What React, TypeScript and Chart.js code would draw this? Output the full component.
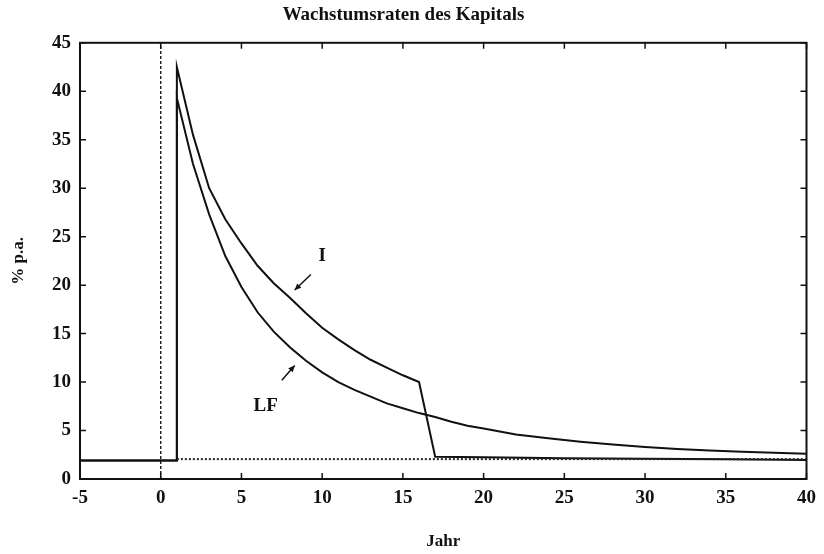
import React, { useEffect, useRef } from "react";
import { Chart, registerables } from "chart.js";

Chart.register(...registerables);

const TITLE = "Wachstumsraten des Kapitals";
const X_LABEL = "Jahr";
const Y_LABEL = "% p.a.";

const X_MIN = -5;
const X_MAX = 40;
const X_STEP = 5;
const Y_MIN = 0;
const Y_MAX = 45;
const Y_STEP = 5;

// Series "I"
const yearsI = [-5, 1, 1, 2, 3, 4, 5, 6, 7, 8, 9, 10, 11, 12, 13, 14, 15, 16, 17, 20, 25, 30, 35, 40];
const valuesI = [1.9, 1.9, 42.5, 35.5, 30.0, 26.8, 24.3, 22.0, 20.2, 18.7, 17.1, 15.6, 14.4, 13.3, 12.3, 11.5, 10.7, 10.0, 2.3, 2.25, 2.15, 2.1, 2.05, 1.95];

// Series "LF"
const yearsLF = [-5, 1, 1, 2, 3, 4, 5, 6, 7, 8, 9, 10, 11, 12, 13, 14, 15, 16, 17, 18, 19, 20, 22, 24, 26, 28, 30, 32, 34, 36, 38, 40];
const valuesLF = [1.9, 1.9, 39.3, 32.5, 27.3, 23.0, 19.8, 17.2, 15.2, 13.6, 12.2, 11.0, 10.0, 9.2, 8.5, 7.8, 7.3, 6.8, 6.4, 5.9, 5.5, 5.2, 4.6, 4.2, 3.85, 3.55, 3.3, 3.1, 2.95, 2.8, 2.7, 2.6];

// Dotted reference level
const yearsRef = [1, 40];
const valuesRef = [2.05, 2.05];

// Dashed vertical marker at year 0
const yearsMarker = [0, 0];
const valuesMarker = [0, 45];

const FONT = "'Liberation Serif', 'Times New Roman', serif";

const toPoints = (xs: number[], ys: number[]) => xs.map((x, i) => ({ x, y: ys[i] }));

const frameTicks = {
  id: "frameTicks",
  afterDatasetsDraw(chart: any) {
    const { ctx, chartArea, scales } = chart;
    const { left, right, top, bottom } = chartArea;
    const len = 6;
    ctx.save();
    ctx.strokeStyle = "#111";
    ctx.lineWidth = 2;
    ctx.strokeRect(left, top, right - left, bottom - top);
    ctx.lineWidth = 1.5;
    ctx.beginPath();
    scales.x.ticks.forEach((t: any) => {
      const px = scales.x.getPixelForValue(t.value);
      ctx.moveTo(px, bottom);
      ctx.lineTo(px, bottom - len);
      ctx.moveTo(px, top);
      ctx.lineTo(px, top + len);
    });
    scales.y.ticks.forEach((t: any) => {
      const py = scales.y.getPixelForValue(t.value);
      ctx.moveTo(left, py);
      ctx.lineTo(left + len, py);
      ctx.moveTo(right, py);
      ctx.lineTo(right - len, py);
    });
    ctx.stroke();
    ctx.restore();
  },
};

const labels = {
  id: "curveLabels",
  afterDatasetsDraw(chart: any) {
    const { ctx, scales } = chart;
    const X = (v: number) => scales.x.getPixelForValue(v);
    const Y = (v: number) => scales.y.getPixelForValue(v);
    ctx.save();
    ctx.fillStyle = "#111";
    ctx.strokeStyle = "#111";
    ctx.font = `bold 19px ${FONT}`;
    ctx.textAlign = "center";
    ctx.textBaseline = "middle";
    ctx.fillText("I", X(10), Y(23.0));
    ctx.fillText("LF", X(6.5), Y(7.5));
    const arrow = (x1: number, y1: number, x2: number, y2: number) => {
      const a = X(x1), b = Y(y1), c = X(x2), d = Y(y2);
      ctx.lineWidth = 1.5;
      ctx.beginPath();
      ctx.moveTo(a, b);
      ctx.lineTo(c, d);
      ctx.stroke();
      const ang = Math.atan2(d - b, c - a);
      const h = 7;
      ctx.beginPath();
      ctx.moveTo(c, d);
      ctx.lineTo(c - h * Math.cos(ang - 0.45), d - h * Math.sin(ang - 0.45));
      ctx.lineTo(c - h * Math.cos(ang + 0.45), d - h * Math.sin(ang + 0.45));
      ctx.closePath();
      ctx.fill();
    };
    arrow(9.3, 21.1, 8.3, 19.5);
    arrow(7.5, 10.2, 8.3, 11.7);
    ctx.restore();
  },
};

export default function App() {
  const ref = useRef<HTMLCanvasElement>(null);

  useEffect(() => {
    document.body.style.margin = "0";
    const canvas = ref.current;
    if (!canvas) return;
    const chart = new Chart(canvas, {
      type: "line",
      data: {
        datasets: [
          {
            label: "marker",
            data: toPoints(yearsMarker, valuesMarker),
            borderColor: "#222",
            borderWidth: 1.5,
            borderDash: [3, 2],
            pointRadius: 0,
          },
          {
            label: "ref",
            data: toPoints(yearsRef, valuesRef),
            borderColor: "#222",
            borderWidth: 2,
            borderDash: [2, 2],
            pointRadius: 0,
          },
          {
            label: "LF",
            data: toPoints(yearsLF, valuesLF),
            borderColor: "#111",
            borderWidth: 2,
            pointRadius: 0,
            tension: 0,
          },
          {
            label: "I",
            data: toPoints(yearsI, valuesI),
            borderColor: "#111",
            borderWidth: 2,
            pointRadius: 0,
            tension: 0,
          },
        ],
      },
      options: {
        responsive: false,
        animation: false,
        layout: { padding: { left: 0, right: 17, top: 0, bottom: 0 } },
        plugins: {
          legend: { display: false },
          tooltip: { enabled: false },
          title: {
            display: true,
            text: TITLE,
            color: "#111",
            font: { family: FONT, size: 19, weight: "bold" },
            padding: { top: 4, bottom: 16 },
          },
        },
        scales: {
          x: {
            type: "linear",
            min: X_MIN,
            max: X_MAX,
            ticks: {
              stepSize: X_STEP,
              color: "#111",
              font: { family: FONT, size: 19, weight: "bold" },
              padding: 8,
              maxRotation: 0,
            },
            grid: { display: false, drawTicks: false },
            border: { display: false },
            title: {
              display: true,
              text: X_LABEL,
              color: "#111",
              font: { family: FONT, size: 17, weight: "bold" },
              padding: { top: 0, bottom: 2 },
            },
            afterFit: (s: any) => {
              s.height = 75;
            },
          },
          y: {
            min: Y_MIN,
            max: Y_MAX,
            ticks: {
              stepSize: Y_STEP,
              color: "#111",
              font: { family: FONT, size: 19, weight: "bold" },
              padding: 9,
            },
            grid: { display: false, drawTicks: false },
            border: { display: false },
            title: {
              display: true,
              text: Y_LABEL,
              color: "#111",
              font: { family: FONT, size: 17, weight: "bold" },
              padding: { top: 8, bottom: 0 },
            },
            afterFit: (s: any) => {
              s.width = 80;
            },
          },
        },
      },
      plugins: [frameTicks, labels],
    });
    return () => chart.destroy();
  }, []);

  return (
    <div style={{ width: 824, height: 554, background: "#fff" }}>
      <canvas ref={ref} width={824} height={554} />
    </div>
  );
}
